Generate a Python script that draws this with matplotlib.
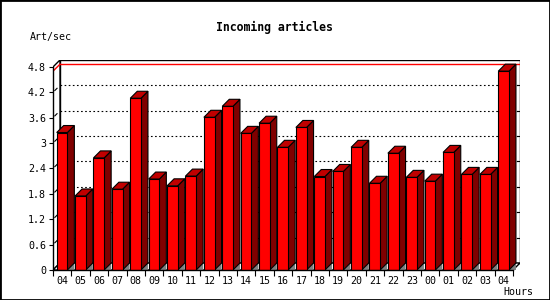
import matplotlib
matplotlib.use("Agg")
import matplotlib.pyplot as plt
from matplotlib.patches import Polygon, Rectangle

# data
hours = ["04", "05", "06", "07", "08", "09", "10", "11", "12", "13", "14", "15",
         "16", "17", "18", "19", "20", "21", "22", "23", "00", "01", "02", "03", "04"]
rates = [3.25, 1.75, 2.65, 1.91, 4.06, 2.15, 1.99, 2.22, 3.61, 3.87, 3.23, 3.47,
         2.90, 3.37, 2.21, 2.33, 2.90, 2.05, 2.76, 2.19, 2.10, 2.78, 2.26, 2.26, 4.70]
yticks = [0, 0.6, 1.2, 1.8, 2.4, 3.0, 3.6, 4.2, 4.8]
ytick_labels = ["0", "0.6", "1.2", "1.8", "2.4", "3", "3.6", "4.2", "4.8"]

n = len(hours)
ymax = yticks[-1]
px_x = 18.4   # pixels per slot
px_y = 42.3   # pixels per unit
dx = 7 / px_x
dy = 7 / px_y

plt.rcParams["font.family"] = "DejaVu Sans Mono"

fig = plt.figure(figsize=(5.5, 3), dpi=100)
ax = fig.add_axes([53 / 550, 30 / 300, (n + dx) * px_x / 550, (ymax + dy) * px_y / 300])
ax.set_xlim(0, n + dx)
ax.set_ylim(0, ymax + dy)
ax.patch.set_visible(False)

for s in ["top", "right"]:
    ax.spines[s].set_visible(False)
ax.spines["left"].set_bounds(0, ymax)
ax.spines["bottom"].set_bounds(0, n)
for s in ["left", "bottom"]:
    ax.spines[s].set_linewidth(1)
    ax.spines[s].set_zorder(10)

ax.set_yticks(yticks)
ax.set_yticklabels(ytick_labels)
ax.tick_params(axis="y", length=3, width=0.8, pad=2, labelsize=7.2)
ax.set_xticks(range(n + 1))
ax.set_xticklabels([])
ax.set_xticks([i + 0.5 for i in range(n)], minor=True)
ax.set_xticklabels(hours, minor=True)
ax.tick_params(axis="x", which="major", length=4, width=0.8)
ax.tick_params(axis="x", which="minor", length=0, pad=4, labelsize=7.2)

# back wall, left wall, floor
ax.add_patch(Rectangle((dx, dy), n, ymax, fc="white", ec="black", lw=1, zorder=1))
ax.add_patch(Polygon([(0, 0), (dx, dy), (dx, ymax + dy), (0, ymax)],
                     fc="white", ec="black", lw=1, zorder=1))
ax.add_patch(Polygon([(0, 0), (n, 0), (n + dx, dy), (dx, dy)],
                     fc="white", ec="black", lw=1, zorder=1))

# grid on the back wall and left wall
for v in yticks[1:-1]:
    ax.plot([dx, n + dx], [v + dy, v + dy], color="black", lw=0.8,
            dashes=(1.5, 2.2), zorder=2)
    ax.plot([n + dx - 0.15, n + dx], [v + dy, v + dy], color="black", lw=0.8, zorder=2)
    ax.plot([0.1, 0.22], [v + 0.1 * dy / dx, v + 0.22 * dy / dx],
            color="black", lw=0.8, zorder=2)

# max line
top = max(rates)
ax.plot([dx, n + dx], [top + dy, top + dy], color="red", lw=1, zorder=3)
ax.plot([0, dx], [top, top + dy], color="red", lw=1, zorder=3)

# 3d bars
w = 0.58
for i, h in enumerate(rates):
    x0 = i + 0.2
    x1 = x0 + w
    ax.add_patch(Polygon([(x1, 0), (x1 + dx, dy), (x1 + dx, 0)],
                         fc="#808080", ec="none", zorder=4))
    ax.add_patch(Polygon([(x1, 0), (x1 + dx, dy), (x1 + dx, h + dy), (x1, h)],
                         fc="#800000", ec="black", lw=0.8, zorder=5))
    ax.add_patch(Polygon([(x0, h), (x0 + dx, h + dy), (x1 + dx, h + dy), (x1, h)],
                         fc="#c00000", ec="black", lw=0.8, zorder=5))
    ax.add_patch(Rectangle((x0, 0), w, h, fc="red", ec="black", lw=0.8, zorder=6))

fig.text(274 / 550, 1 - 27 / 300, "Incoming articles", ha="center", va="center",
         fontsize=8.3, fontweight="bold")
fig.text(30 / 550, 1 - 37 / 300, "Art/sec", ha="left", va="center", fontsize=7.2)
fig.text(503 / 550, 1 - 292 / 300, "Hours", ha="left", va="center", fontsize=7.2)

fig.patches.append(Rectangle((0, 0), 1, 1, transform=fig.transFigure,
                             fill=False, ec="black", lw=2))

fig.savefig("out.png", dpi=100)
